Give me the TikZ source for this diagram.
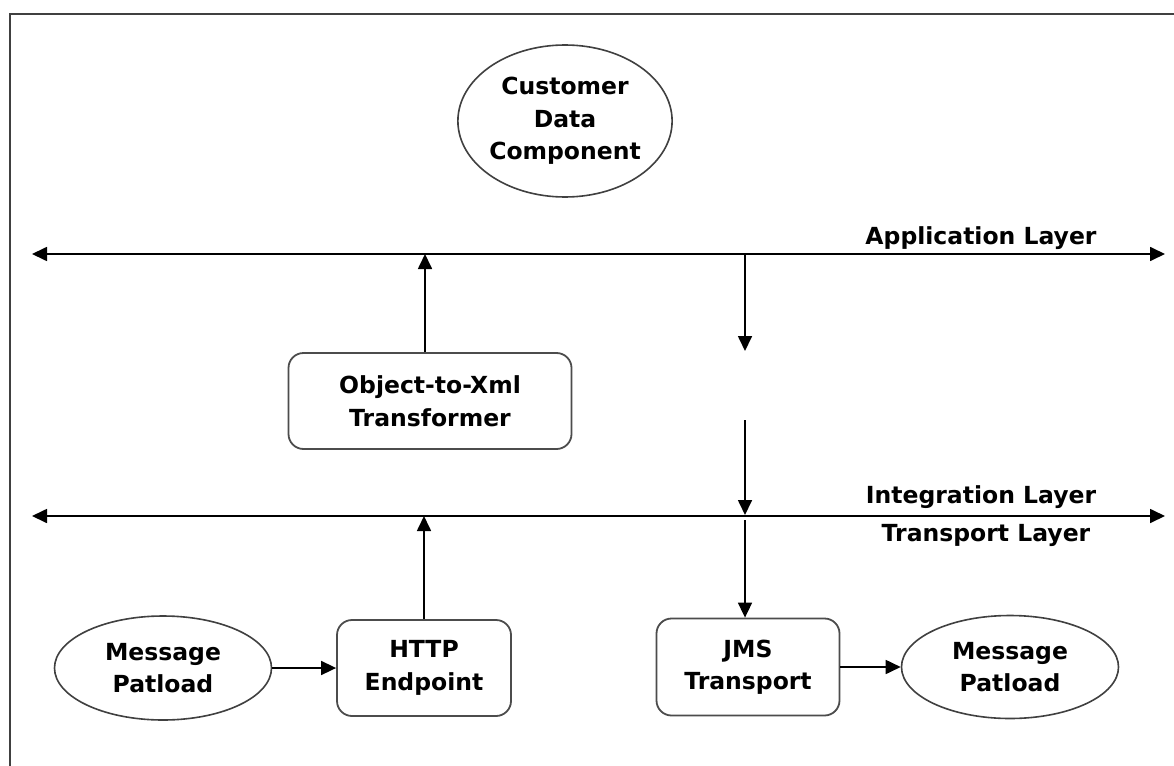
\documentclass[tikz,border=0pt]{standalone}
\usepackage{fontspec}
\setmainfont{DejaVu Sans}
\usetikzlibrary{arrows.meta,shapes.geometric}
\begin{document}
\begin{tikzpicture}[x=1pt,y=-1pt,
  every node/.style={font=\bfseries\fontsize{23.5}{32.5}\selectfont, align=center, inner sep=0pt},
  oval/.style={ellipse, draw=black!75, line width=1.6pt},
  compbox/.style={rectangle, rounded corners=15pt, draw=black!70, line width=1.8pt},
  flow/.style={line width=1.7pt, -{Triangle[length=15pt,width=14pt]}},
  layer/.style={line width=1.7pt, {Triangle[length=15pt,width=14pt]}-{Triangle[length=15pt,width=14pt]}}]
\useasboundingbox (0,0) rectangle (1174,765);
\fill[white] (0,0) rectangle (1174,765);
% frame along the left and top edges
\draw[black!75, line width=2.6pt] (10,770) -- (10,14) -- (1180,14);

% components
\node[oval, minimum width=212pt, minimum height=152pt] (cdc) at (565,121) {Customer\\Data\\Component};
\node[compbox, minimum width=283pt, minimum height=96pt] (oxt) at (430,401) {Object-to-Xml\\Transformer};
\node[compbox, minimum width=174pt, minimum height=96pt] (http) at (424,668) {HTTP\\Endpoint};
\node[compbox, minimum width=183pt, minimum height=97pt] (jms) at (748,667) {JMS\\Transport};
\node[oval, minimum width=217pt, minimum height=104pt] (mpl) at (163,668) {Message\\Patload};
\node[oval, minimum width=217pt, minimum height=103pt] (mpr) at (1010,667) {Message\\Patload};

% layer boundaries
\coordinate (appL) at (32,254);
\coordinate (appR) at (1165,254);
\coordinate (intL) at (32,516);
\coordinate (intR) at (1165,516);
\draw[layer] (appL) -- (appR);
\draw[layer] (intL) -- (intR);
\node (applbl) at (981,238) {Application Layer};
\node (intlbl) at (981,497) {Integration Layer};
\node (trlbl) at (986,535) {Transport Layer};

% inbound path
\coordinate (appUp) at (425,254);
\coordinate (intUp) at (424,516);
\draw[flow] (mpl.east) -- (http.west);
\draw[flow] (http.north) -- (intUp);
\draw[flow] (oxt.north -| appUp) -- (appUp);

% outbound path
\coordinate (appDn) at (745,254);
\coordinate (midA) at (745,351);
\coordinate (midB) at (745,420);
\coordinate (intDn) at (745,515);
\coordinate (intDn2) at (745,520);
\draw[flow] (appDn) -- (midA);
\draw[flow] (midB) -- (intDn);
\draw[flow] (intDn2) -- (intDn2 |- jms.north);
\draw[flow] (jms.east) -- (mpr.west);
\end{tikzpicture}
\end{document}
